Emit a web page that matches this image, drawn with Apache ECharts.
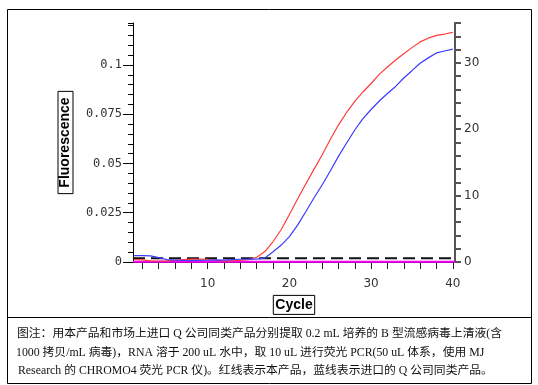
<!DOCTYPE html>
<html>
<head>
<meta charset="utf-8">
<script src="https://cdn.jsdelivr.net/npm/echarts@6/dist/echarts.min.js"></script>
<style>
html,body{margin:0;padding:0;background:#fff;}
#chart{width:538px;height:385px;}
</style>
</head>
<body>
<div id="chart"></div>
<script>
// ---- data ----
const cycles = [1,2,3,4,5,6,7,8,9,10,11,12,13,14,15,16,17,18,19,20,21,22,23,24,25,26,27,28,29,30,31,32,33,34,35,36,37,38,39,40];
const redFluor = [0.0012,0.0011,0.0006,0.0005,0.0006,0.0008,0.0012,0.0015,0.0015,0.0014,0.0008,0.0006,0.0006,0.0008,0.0012,
  0.0024,0.0053,0.0104,0.0165,0.0241,0.0320,0.0396,0.0470,0.0543,0.0622,0.0695,0.0759,0.0815,0.0863,0.0906,
  0.0952,0.0990,0.1025,0.1057,0.1088,0.1117,0.1136,0.1150,0.1157,0.1165];
const blueFluor = [0.0032,0.0032,0.0031,0.0022,0.0012,0.0010,0.0008,0.0007,0.0008,0.0009,0.0011,0.0010,0.0012,0.0014,0.0015,
  0.0015,0.0020,0.0052,0.0086,0.0129,0.0187,0.0255,0.0325,0.0391,0.0462,0.0536,0.0604,0.0670,0.0728,0.0774,
  0.0817,0.0855,0.0891,0.0934,0.0971,0.1009,0.1036,0.1061,0.1071,0.1080];
const thresholdValue = 0.0019;
const baselineValue = 0.0001;
const xTickValues = [2,4,6,8,10,12,14,16,18,20,22,24,26,28,30,32,34,36,38,40];
const xLabelValues = [10,20,30,40];
const yLeftLabels = [0,0.025,0.05,0.075,0.1];
const yRightLabels = [0,10,20,30];
const xName = 'Cycle';
const yName = 'Fluorescence';
const captionLines = [
  '图注：用本产品和市场上进口 Q 公司同类产品分别提取 0.2 mL 培养的 B 型流感病毒上清液(含',
  '1000 拷贝/mL 病毒)，RNA 溶于 200 uL 水中，取 10 uL 进行荧光 PCR(50 uL 体系，使用 MJ',
  'Research 的 CHROMO4 荧光 PCR 仪)。红线表示本产品，蓝线表示进口的 Q 公司同类产品。'
];

const xMin = 0.853, xMax = 40.27;
const leftMin = 0, leftMax = 0.1213, rightMax = 36;

const redData = cycles.map((c, i) => [c, redFluor[i]]);
const blueData = cycles.map((c, i) => [c, blueFluor[i]]);
const thresholdData = [[xMin, thresholdValue], [xMax, thresholdValue]];
const baselineData = [[xMin, baselineValue], [xMax, baselineValue]];

const chart = echarts.init(document.getElementById('chart'), null, {renderer: 'canvas'});
const capFont = '"Liberation Serif", "Noto Sans CJK SC", serif';

const option = {
  animation: false,
  backgroundColor: '#fff',
  grid: {left: 133, top: 23, width: 322, height: 239},
  xAxis: {
    type: 'value', min: xMin, max: xMax,
    name: xName, nameLocation: 'middle', nameGap: 31,
    nameTextStyle: {fontFamily: 'Liberation Sans', fontWeight: 'bold', fontSize: 14, color: '#000',
      borderColor: '#000', borderWidth: 1, padding: [2, 2, 1, 2], lineHeight: 16},
    axisLine: {show: true, lineStyle: {color: '#000', width: 1}},
    axisTick: {show: true, length: 7, customValues: xTickValues, lineStyle: {color: '#222'}},
    axisLabel: {customValues: xLabelValues, margin: 16, fontFamily: 'DejaVu Sans', fontSize: 12, color: '#333'},
    splitLine: {show: false}
  },
  yAxis: [
    {
      type: 'value', position: 'left', min: leftMin, max: leftMax, interval: 0.005,
      axisLine: {show: true, lineStyle: {color: '#000', width: 1}},
      axisTick: {show: true, length: 5, lineStyle: {color: '#000'}},
      axisLabel: {show: false},
      splitLine: {show: false},
      name: yName, nameLocation: 'middle', nameGap: 60,
      nameTextStyle: {fontFamily: 'Liberation Sans', fontWeight: 'bold', fontSize: 14, color: '#000',
        borderColor: '#000', borderWidth: 1, padding: [1, 6, 1, 6], lineHeight: 13}
    },
    {
      type: 'value', position: 'left', min: leftMin, max: leftMax,
      axisLine: {show: false},
      axisTick: {show: true, length: 10, customValues: yLeftLabels, lineStyle: {color: '#000'}},
      axisLabel: {customValues: yLeftLabels, margin: 11, fontFamily: 'DejaVu Sans Mono', fontSize: 12, color: '#333',
        formatter: v => String(+v.toFixed(4))},
      splitLine: {show: false}
    },
    {
      type: 'value', position: 'right', min: 0, max: rightMax, interval: 2,
      axisLine: {show: true, lineStyle: {color: '#555', width: 2}},
      axisTick: {show: true, length: 6, lineStyle: {color: '#555', width: 2}},
      axisLabel: {customValues: yRightLabels, margin: 9, fontFamily: 'DejaVu Sans', fontSize: 12, color: '#333'},
      splitLine: {show: false}
    }
  ],
  series: [
    {
      name: 'baseline', type: 'line', yAxisIndex: 0, data: baselineData, showSymbol: false, z: 2,
      lineStyle: {color: '#ff00ff', width: 2, type: 'solid'}
    },
    {
      name: 'threshold', type: 'line', yAxisIndex: 0, data: thresholdData, showSymbol: false, z: 3,
      lineStyle: {color: '#111', width: 2, type: [12, 6]}
    },
    {
      type: 'line', yAxisIndex: 0, data: redData, showSymbol: false, smooth: false,
      lineStyle: {color: '#ff3b3b', width: 1.2}, z: 4
    },
    {
      type: 'line', yAxisIndex: 0, data: blueData, showSymbol: false, smooth: false,
      lineStyle: {color: '#3b3bff', width: 1.2}, z: 4
    }
  ],
  graphic: [
    {type: 'rect', shape: {x: 7.5, y: 9.5, width: 524, height: 374}, style: {fill: null, stroke: '#000', lineWidth: 1}, silent: true},
    {type: 'line', shape: {x1: 7, y1: 317.5, x2: 532, y2: 317.5}, style: {stroke: '#000', lineWidth: 1}, silent: true},
    {type: 'text', left: 17, top: 328, style: {text: captionLines[0], font: '11.8px ' + capFont, fill: '#111'}},
    {type: 'text', left: 16, top: 347, style: {text: captionLines[1], font: '11.8px ' + capFont, fill: '#111'}},
    {type: 'text', left: 18, top: 365, style: {text: captionLines[2], font: '11.8px ' + capFont, fill: '#111'}}
  ]
};
chart.setOption(option);
</script>
</body>
</html>
